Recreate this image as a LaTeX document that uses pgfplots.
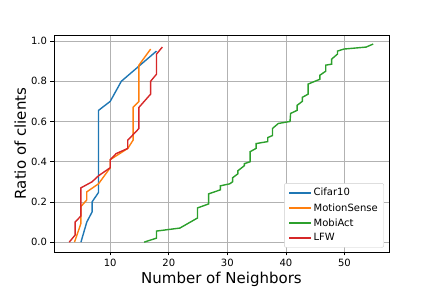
\documentclass[border=0pt]{standalone}
\usepackage{pgfplots}
\pgfplotsset{compat=1.18}
\usepackage{fontspec}
\setmainfont{DejaVu Sans}
\definecolor{c0}{HTML}{1F77B4}
\definecolor{c1}{HTML}{FF7F0E}
\definecolor{c2}{HTML}{2CA02C}
\definecolor{c3}{HTML}{D62728}
\begin{document}
\begin{tikzpicture}
\useasboundingbox (-54pt,-36pt) rectangle (378pt,252pt);
\begin{axis}[
  at={(0,0)}, anchor=south west,
  scale only axis, width=335pt, height=217pt,
  xmin=0.4, xmax=57.6, ymin=-0.049, ymax=1.03,
  xtick={10,20,30,40,50},
  ytick={0,0.2,0.4,0.6,0.8,1.0},
  yticklabel style={/pgf/number format/.cd, fixed, fixed zerofill, precision=1},
  /pgf/number format/assume math mode=true,
  tick label style={font=\fontsize{10}{12}\selectfont, text=black},
  tick align=outside, tick pos=left,
  major tick length=3.5pt,
  every tick/.style={black, line width=0.8pt},
  grid=major, grid style={color=black!30!white, line width=0.8pt},
  axis line style={black, line width=0.8pt},
  xlabel={Number of Neighbors}, ylabel={Ratio of clients},
  label style={font=\fontsize{15}{18}\selectfont},
  xlabel style={yshift=1pt},
  ylabel style={yshift=-2pt},
  legend style={font=\fontsize{10}{12}\selectfont, draw=black!20, rounded corners=2pt, at={(0.985,0.02)}, anchor=south east, row sep=2pt, inner xsep=4pt, inner ysep=3pt},
  legend cell align=left,
  legend image post style={xscale=1.25, line width=2pt},
  every axis plot/.append style={line width=1.4pt},
]
\addplot[c0] coordinates {(5,0) (6,0.10) (6.9,0.15) (6.9,0.20) (8,0.247) (8,0.655) (10,0.70) (11.9,0.80) (17.9,0.95)};
\addlegendentry{Cifar10}
\addplot[c1] coordinates {(3.9,0) (5,0.093) (5,0.177) (6,0.21) (6,0.25) (8,0.29) (10,0.37) (10,0.41) (13,0.466) (13.9,0.507) (13.9,0.67) (14.9,0.70) (14.9,0.88) (16.9,0.96)};
\addlegendentry{MotionSense}
\addplot[c2] coordinates {(15.8,0) (17.9,0.02) (17.9,0.055) (21.9,0.07) (24.9,0.12) (24.9,0.17) (26.8,0.19) (26.8,0.24) (28.8,0.26) (28.8,0.28) (30.4,0.29) (30.9,0.30) (30.9,0.32) (31.8,0.34) (31.8,0.355) (32.9,0.38) (32.9,0.39) (33.9,0.40) (33.9,0.45) (34.9,0.466) (34.9,0.49) (36.9,0.50) (36.9,0.52) (37.7,0.53) (37.7,0.565) (38.7,0.59) (40.7,0.60) (40.8,0.64) (41.9,0.655) (41.9,0.68) (42.8,0.70) (42.8,0.72) (43.8,0.736) (43.8,0.786) (45.8,0.81) (45.8,0.83) (46.8,0.85) (46.8,0.88) (47.8,0.885) (47.8,0.91) (48.8,0.935) (48.8,0.95) (49.9,0.96) (53.7,0.97) (54.9,0.985)};
\addlegendentry{MobiAct}
\addplot[c3] coordinates {(3,0) (4,0.035) (4,0.10) (5,0.13) (5,0.27) (6.9,0.30) (8,0.33) (10,0.37) (10,0.41) (11,0.44) (13,0.466) (13,0.507) (14.9,0.565) (14.9,0.67) (16.9,0.736) (16.9,0.80) (17.9,0.835) (17.9,0.935) (18.9,0.97)};
\addlegendentry{LFW}
\end{axis}
\end{tikzpicture}
\end{document}
